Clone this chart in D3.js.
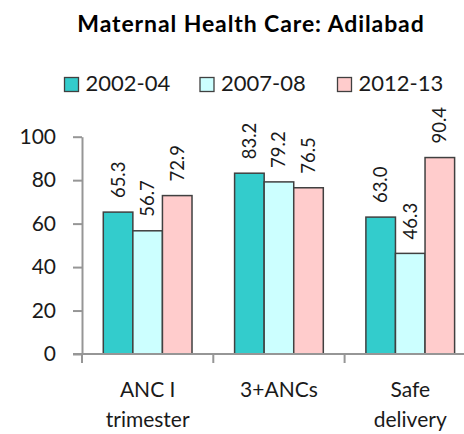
<!DOCTYPE html>
<html>
<head>
<meta charset="utf-8">
<script src="https://cdn.jsdelivr.net/npm/d3@7"></script>
<style>
  html, body { margin: 0; padding: 0; background: #fff; }
  svg { display: block; font-family: Lato, "Open Sans", sans-serif; }
</style>
</head>
<body>
<svg id="chart" width="464" height="434"></svg>
<script>
const title = "Maternal Health Care: Adilabad";
const categories = ["ANC I|trimester", "3+ANCs", "Safe|delivery"];
const series = ["2002-04", "2007-08", "2012-13"];
const colors = ["#33CCCC", "#CCFFFF", "#FFCCCC"];
const values2002 = [65.3, 83.2, 63.0];
const values2007 = [56.7, 79.2, 46.3];
const values2012 = [72.9, 76.5, 90.4];
const yTicks = [0, 20, 40, 60, 80, 100];

const seriesValues = [values2002, values2007, values2012];
const data = categories.map((c, i) => ({
  cat: c,
  vals: series.map((s, j) => ({ s, j, v: seriesValues[j][i] }))
}));

const svg = d3.select("#chart");
const left = 82, plotTop = 136.7, plotBottom = 354, bandW = 131.3;

const x0 = d3.scaleBand().domain(categories).range([left, left + bandW * categories.length]).paddingInner(0).paddingOuter(0);
const x1 = d3.scaleBand().domain(series).range([0, x0.bandwidth()]).paddingInner(0).paddingOuter(0.72);
const y = d3.scaleLinear().domain([0, 100]).range([plotBottom, plotTop]);

// Title
svg.append("text")
  .attr("x", 251).attr("y", 31.5)
  .attr("text-anchor", "middle")
  .attr("font-weight", "bold")
  .attr("font-size", 23)
  .attr("letter-spacing", 0.9)
  .attr("fill", "#000")
  .text(title);

// Legend
const legendX = [64, 199.5, 337];
const leg = svg.append("g").selectAll("g").data(series).join("g")
  .attr("transform", (d, i) => `translate(${legendX[i]},77)`);
leg.append("rect").attr("x", 0.5).attr("y", 0.5).attr("width", 14).attr("height", 14)
  .attr("fill", (d, i) => colors[i]).attr("stroke", "#404040").attr("stroke-width", 1.3);
leg.append("text").attr("x", 21.5).attr("y", 14.3)
  .attr("font-size", 22).attr("fill", "#1a1a1a").text(d => d);

// Bars
const groups = svg.append("g").selectAll("g").data(data).join("g")
  .attr("transform", d => `translate(${x0(d.cat)},0)`);
groups.selectAll("rect").data(d => d.vals).join("rect")
  .attr("x", d => x1(d.s))
  .attr("y", d => y(d.v))
  .attr("width", x1.bandwidth())
  .attr("height", d => y(0) - y(d.v))
  .attr("fill", d => colors[d.j])
  .attr("stroke", "#404040")
  .attr("stroke-width", 1.5);

// Value labels (rotated)
groups.selectAll("text.val").data(d => d.vals).join("text")
  .attr("class", "val")
  .attr("transform", d => `translate(${x1(d.s) + x1.bandwidth() / 2},${y(d.v) - 14}) rotate(-90)`)
  .attr("dy", "0.35em")
  .attr("text-anchor", "start")
  .attr("font-size", 18.5)
  .attr("fill", "#1a1a1a")
  .text(d => d.v.toFixed(1));

// Y axis
const yAxis = svg.append("g").attr("transform", `translate(${left},0)`)
  .call(d3.axisLeft(y).tickValues(yTicks).tickSize(9).tickPadding(17).tickSizeOuter(0));
yAxis.select(".domain").attr("stroke", "#969696").attr("stroke-width", 2);
yAxis.selectAll(".tick line").attr("stroke", "#969696").attr("stroke-width", 2);
yAxis.selectAll(".tick text").attr("font-size", 21).attr("fill", "#1a1a1a")
  .attr("font-family", "Lato, 'Open Sans', sans-serif");

// X axis
const xEnd = x0.range()[1];
const boundaries = categories.map(c => x0(c)).concat([xEnd]);
svg.append("line").attr("x1", left - 9).attr("x2", xEnd)
  .attr("y1", y(0)).attr("y2", y(0))
  .attr("stroke", "#969696").attr("stroke-width", 2);
svg.append("g").selectAll("line").data(boundaries).join("line")
  .attr("x1", d => d).attr("x2", d => d)
  .attr("y1", y(0)).attr("y2", y(0) + 9)
  .attr("stroke", "#969696").attr("stroke-width", 2);

// Category labels
const catLabels = svg.append("g").selectAll("text").data(categories).join("text")
  .attr("text-anchor", "middle")
  .attr("font-size", 21)
  .attr("fill", "#1a1a1a");
catLabels.each(function(c) {
  const lines = c.split("|");
  const cx = x0(c) + x0.bandwidth() / 2;
  d3.select(this).selectAll("tspan").data(lines).join("tspan")
    .attr("x", cx)
    .attr("y", (d, i) => 397 + i * 29.5)
    .text(d => d);
});
</script>
</body>
</html>
